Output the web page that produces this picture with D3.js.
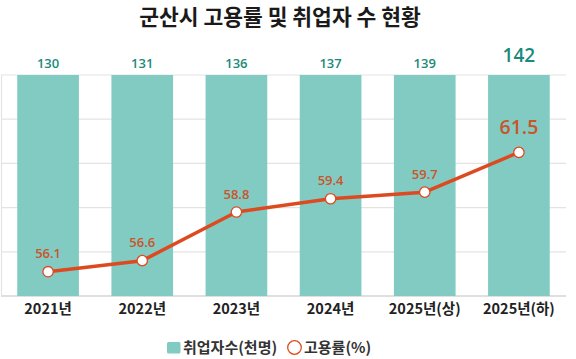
<!DOCTYPE html>
<html><head><meta charset="utf-8">
<script src="https://cdn.jsdelivr.net/npm/d3@7"></script>
<style>
html,body{margin:0;padding:0;background:#fff;}
svg{display:block;font-family:"Noto Sans CJK KR","Noto Sans",sans-serif;}
.num{font-family:"Open Sans","Noto Sans CJK KR",sans-serif;}
</style></head>
<body><svg id="c" width="576" height="359"></svg>
<script>
const categories = ["2021년","2022년","2023년","2024년","2025년(상)","2025년(하)"];
const employed = [130,131,136,137,139,142];
const empRate = [56.1,56.6,58.8,59.4,59.7,61.5];
const rateTicks = [55,57,59,61,63,65];
const title = "군산시 고용률 및 취업자 수 현황";
const legendLabels = ["취업자수(천명)","고용률(%)"];

(function(){
const svg = d3.select("#c");
const pL = 1, pR = 566, pT = 75, pB = 296;
const barColor = "#82cbc3", lineColor = "#dd4a1f";

const x = d3.scaleBand().domain(categories).range([pL, pR]).paddingInner(0.345).paddingOuter(0.1725);
const yBar = d3.scaleLinear().domain([0, 125]).range([pB, pT]).clamp(true);
const yLine = d3.scaleLinear().domain([55, 65]).range([pB, pT]);

svg.append("text").attr("x", 280).attr("y", 25).attr("text-anchor","middle")
  .attr("font-size", 21.5).attr("font-weight", 700).attr("fill", "#1a1a1a").text(title);

svg.append("g").selectAll("line").data(rateTicks).join("line")
  .attr("x1", pL).attr("x2", pR)
  .attr("y1", d => yLine(d)).attr("y2", d => yLine(d))
  .attr("stroke", d => d === 55 ? "#d4d4d4" : "#e3e3e3").attr("stroke-width", d => d===55?1.5:1.2);
svg.append("line").attr("x1", 1.5).attr("x2", 1.5).attr("y1", pT).attr("y2", pB)
  .attr("stroke", "#e3e3e3").attr("stroke-width", 1.2);

svg.append("g").selectAll("rect").data(employed).join("rect")
  .attr("x", (d,i) => x(categories[i])).attr("width", x.bandwidth())
  .attr("y", d => yBar(d)).attr("height", d => pB - yBar(d))
  .attr("fill", barColor);

svg.append("g").attr("class","num").selectAll("text").data(employed).join("text")
  .attr("x", (d,i) => x(categories[i]) + x.bandwidth()/2)
  .attr("y", (d,i) => i === employed.length-1 ? 62 : 67.5)
  .attr("text-anchor","middle")
  .attr("font-size", (d,i) => i === employed.length-1 ? 19 : 13)
  .attr("font-weight", 600).attr("fill", "#1b8a7a").text(d => d);

svg.append("g").selectAll("text").data(categories).join("text")
  .attr("x", d => x(d) + x.bandwidth()/2).attr("y", 314)
  .attr("text-anchor","middle").attr("font-size", 14.5).attr("font-weight", 700)
  .attr("fill", "#222").text(d => d);

const line = d3.line().x((d,i) => x(categories[i]) + x.bandwidth()/2).y(d => yLine(d));
svg.append("path").datum(empRate).attr("d", line).attr("fill","none")
  .attr("stroke", lineColor).attr("stroke-width", 3.5).attr("stroke-linejoin","round");
svg.append("g").selectAll("circle").data(empRate).join("circle")
  .attr("cx", (d,i) => x(categories[i]) + x.bandwidth()/2).attr("cy", d => yLine(d))
  .attr("r", 5.2).attr("fill", "#fff").attr("stroke", lineColor).attr("stroke-width", 1.3);
svg.append("g").attr("class","num").selectAll("text").data(empRate).join("text")
  .attr("x", (d,i) => x(categories[i]) + x.bandwidth()/2)
  .attr("y", (d,i) => yLine(d) - (i === empRate.length-1 ? 18 : 13.5))
  .attr("text-anchor","middle")
  .attr("font-size", (d,i) => i === empRate.length-1 ? 19.5 : 13)
  .attr("font-weight", 600)
  .attr("fill", "#c9552b").text(d => d.toFixed(1));

const lg = svg.append("g");
lg.append("rect").attr("x", 167).attr("y", 342).attr("width", 13.5).attr("height", 11.5).attr("rx", 1.5).attr("fill", barColor);
lg.append("text").attr("x", 183).attr("y", 353).attr("font-size", 15).attr("font-weight", 700).attr("fill", "#333").text(legendLabels[0]);
lg.append("circle").attr("cx", 294.5).attr("cy", 347.5).attr("r", 6.8).attr("fill","#fff").attr("stroke", lineColor).attr("stroke-width", 1.3);
lg.append("text").attr("x", 304).attr("y", 353).attr("font-size", 15).attr("font-weight", 700).attr("fill", "#333").text(legendLabels[1]);
})();
</script></body></html>
